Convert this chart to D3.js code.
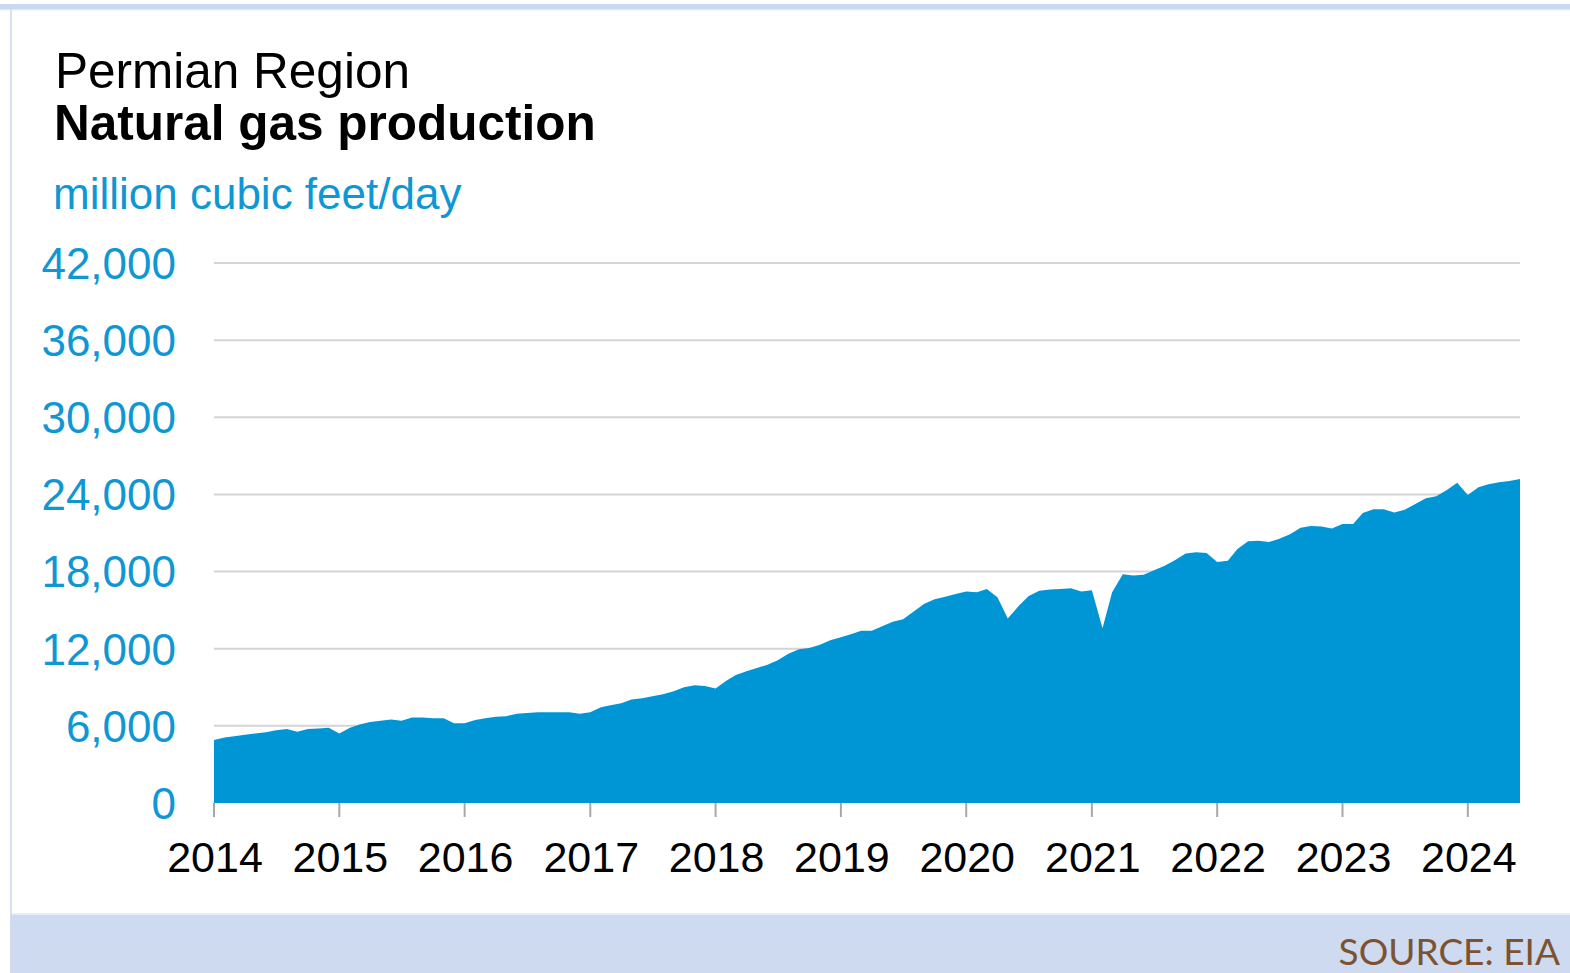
<!DOCTYPE html>
<html lang="en">
<head>
  <meta charset="utf-8">
  <title>Permian Region natural gas production</title>
  <script src="https://cdn.jsdelivr.net/npm/d3@7"></script>
  <style>
    body { margin: 0; background: #fff; }
    .title_text { font-family: "Liberation Sans", Arial, sans-serif; fill: #000; }
    .unit_text { font-family: "Liberation Sans", Arial, sans-serif; font-size: 44px; fill: #0f97d5; }
    .y_label { font-family: "Liberation Sans", Arial, sans-serif; font-size: 44px; fill: #0f97d5; }
    .x_label { font-family: "Liberation Sans", Arial, sans-serif; font-size: 43px; fill: #000; }
    .source_text { font-family: Lato, "Open Sans", sans-serif; font-size: 37px; fill: #7d5230; }
  </style>
</head>
<body>
<div id="chart"></div>
<script>
// monthly Permian dry gas production, million cubic feet/day, Jan 2014 .. Jun 2024
var startYear = 2014;
var production = [
  4900, 5100, 5200, 5300, 5400, 5500, 5650, 5750, 5550, 5750, 5800, 5850,   // 2014
  5400, 5850, 6100, 6300, 6400, 6500, 6400, 6650, 6650, 6600, 6600, 6200,   // 2015
  6200, 6450, 6600, 6700, 6750, 6950, 7000, 7050, 7050, 7050, 7050, 6950,   // 2016
  7050, 7450, 7600, 7750, 8050, 8150, 8300, 8450, 8700, 9000, 9150, 9100,   // 2017
  8900, 9500, 9950, 10250, 10500, 10750, 11100, 11600, 11950, 12050, 12300, 12650, // 2018
  12900, 13150, 13400, 13400, 13750, 14100, 14300, 14900, 15500, 15850, 16050, 16250, // 2019
  16450, 16400, 16650, 16000, 14350, 15300, 16100, 16500, 16600, 16650, 16700, 16450, // 2020
  16550, 13600, 16400, 17800, 17700, 17750, 18100, 18450, 18900, 19400, 19500, 19450, // 2021
  18750, 18850, 19750, 20350, 20400, 20300, 20550, 20900, 21400, 21550, 21500, 21350, // 2022
  21700, 21700, 22550, 22850, 22850, 22600, 22800, 23250, 23700, 23850, 24350, 24900, // 2023
  23950, 24550, 24800, 24950, 25050, 25200                                         // 2024
];
var yearTicks = [2014, 2015, 2016, 2017, 2018, 2019, 2020, 2021, 2022, 2023, 2024];
var yTicks = [0, 6000, 12000, 18000, 24000, 30000, 36000, 42000];

var W = 1570, H = 973;
var plot = {left: 214, right: 1520, top: 263, bottom: 803};

var data = production.map(function(v, i) {
  return {date: d3.timeMonth.offset(new Date(startYear, 0, 1), i), value: v};
});

var svg = d3.select("#chart").append("svg")
  .attr("width", W).attr("height", H);

// frame
svg.append("rect").attr("x", 0).attr("y", 4).attr("width", W).attr("height", 5).attr("fill", "#cbd9f0");
svg.append("rect").attr("x", 0).attr("y", 9).attr("width", W).attr("height", 1.5).attr("fill", "#e3ebf7");
svg.append("rect").attr("x", 10).attr("y", 9).attr("width", 2).attr("height", 906).attr("fill", "#d6e2f4");
svg.append("rect").attr("x", 10).attr("y", 915).attr("width", W - 10).attr("height", H - 915).attr("fill", "#cddaf0");
svg.append("rect").attr("x", 12).attr("y", 913).attr("width", W - 12).attr("height", 2).attr("fill", "#e6edf8");

var x = d3.scaleTime()
  .domain([data[0].date, data[data.length - 1].date])
  .range([plot.left, plot.right]);

var y = d3.scaleLinear()
  .domain([0, 42000])
  .range([plot.bottom, plot.top]);

// gridlines
svg.append("g").selectAll("line").data(yTicks.slice(1)).enter().append("line")
  .attr("x1", plot.left).attr("x2", plot.right)
  .attr("y1", function(d) { return y(d); }).attr("y2", function(d) { return y(d); })
  .attr("stroke", "#d4d4d4").attr("stroke-width", 2);

// area
var area = d3.area()
  .x(function(d) { return x(d.date); })
  .y0(y(0))
  .y1(function(d) { return y(d.value); });

svg.append("path").datum(data)
  .attr("d", area)
  .attr("fill", "#0096d6");

// x ticks
svg.append("g").selectAll("line").data(yearTicks).enter().append("line")
  .attr("x1", function(d) { return x(new Date(d, 0, 1)); })
  .attr("x2", function(d) { return x(new Date(d, 0, 1)); })
  .attr("y1", plot.bottom).attr("y2", plot.bottom + 14)
  .attr("stroke", "#a8a8a8").attr("stroke-width", 2);

svg.append("g").selectAll("text").data(yearTicks).enter().append("text")
  .attr("class", "x_label")
  .attr("x", function(d) { return x(new Date(d, 0, 1)) + 1; })
  .attr("y", 872)
  .attr("text-anchor", "middle")
  .text(function(d) { return d; });

// y labels
svg.append("g").selectAll("text").data(yTicks).enter().append("text")
  .attr("class", "y_label")
  .attr("x", 176)
  .attr("y", function(d) { return y(d); })
  .attr("dy", "0.36em")
  .attr("text-anchor", "end")
  .text(function(d) { return d3.format(",")(d); });

// titles
svg.append("text").attr("class", "title_text")
  .attr("x", 55).attr("y", 88)
  .style("font-size", "49.5px")
  .text("Permian Region");

svg.append("text").attr("class", "title_text")
  .attr("x", 54).attr("y", 140)
  .style("font-size", "49.5px").style("font-weight", "bold")
  .text("Natural gas production");

svg.append("text").attr("class", "unit_text")
  .attr("x", 53).attr("y", 209)
  .text("million cubic feet/day");

svg.append("text").attr("class", "source_text")
  .attr("x", 1560).attr("y", 965)
  .attr("text-anchor", "end")
  .text("SOURCE: EIA");
</script>
</body>
</html>
